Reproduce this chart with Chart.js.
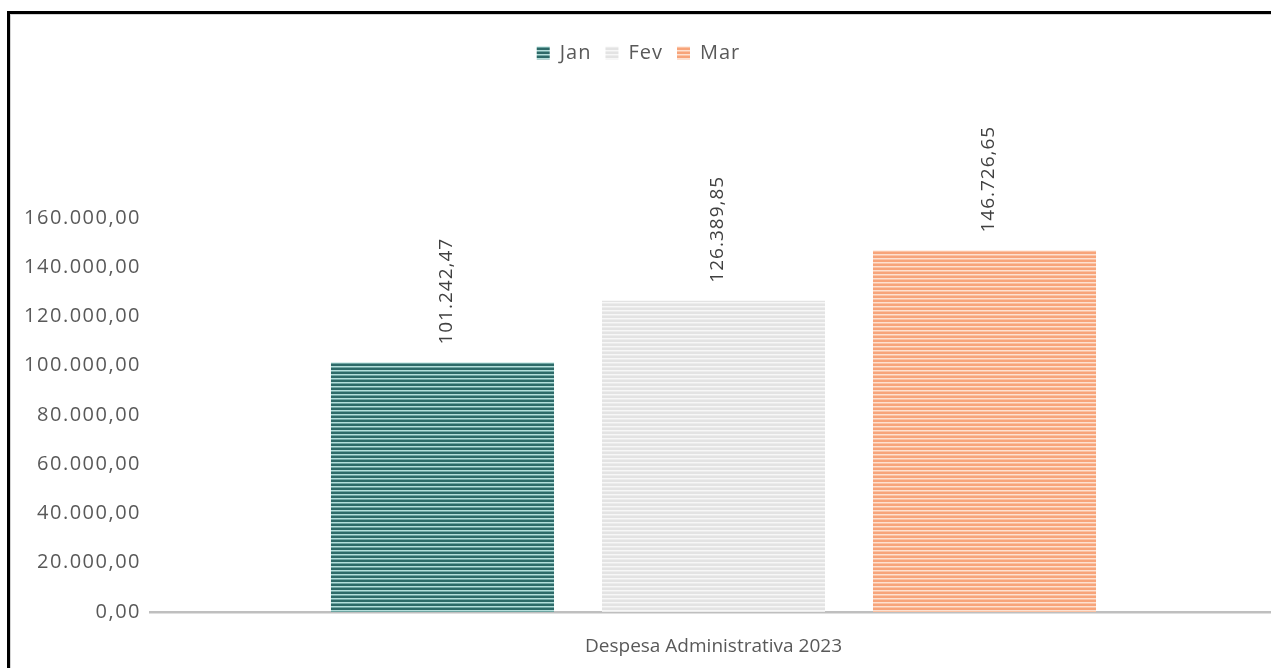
<!DOCTYPE html>
<html>
<head>
<meta charset="utf-8">
<script src="https://cdn.jsdelivr.net/npm/chart.js@4.4.1/dist/chart.umd.min.js"></script>
<style>
  html, body { margin: 0; padding: 0; background: #fff; overflow: hidden; width: 1271px; height: 668px; }
  #wrap { position: absolute; left: 0; top: 0; width: 1277px; height: 668px; }
  #frame { position: absolute; left: 7px; top: 11px; width: 2000px; height: 2000px;
           border-left: 3px solid #000; border-top: 3px solid #000; pointer-events: none; }
  #frame2 { position: absolute; left: 10px; top: 14px; width: 2000px; height: 2000px;
           border-left: 1px solid #d4d4d4; border-top: 1px solid #d4d4d4; pointer-events: none; }
</style>
</head>
<body>
<div id="wrap"><canvas id="c" width="1277" height="668"></canvas></div>
<div id="frame"></div>
<div id="frame2"></div>
<script>
const categories = ["Despesa Administrativa 2023"];
const seriesNames = ["Jan", "Fev", "Mar"];
const janValues = [101242.47];
const fevValues = [126389.85];
const marValues = [146726.65];
const yTickValues = [0, 20000, 40000, 60000, 80000, 100000, 120000, 140000, 160000];

function fmtBR(v) {
  const neg = v < 0; v = Math.abs(v);
  let [ip, dp] = v.toFixed(2).split(".");
  ip = ip.replace(/\B(?=(\d{3})+(?!\d))/g, ".");
  return (neg ? "-" : "") + ip + "," + dp;
}

function stripes(rows) {
  const c = document.createElement("canvas");
  c.width = 4; c.height = rows.length;
  const x = c.getContext("2d");
  rows.forEach((col, i) => { x.fillStyle = col; x.fillRect(0, i, 4, 1); });
  return x.createPattern(c, "repeat");
}
const ctx = document.getElementById("c").getContext("2d");
const janFill = stripes(["#2d6a68", "#2d6a68", "#b4dfdb", "#6fa6a3"]);
const fevFill = stripes(["#e3e3e3", "#e3e3e3", "#f7f7f7", "#ececec"]);
const marFill = stripes(["#f7a47a", "#f7a47a", "#fde1d1", "#fbc2a3"]);

const FONT = "'Open Sans', 'Noto Sans', sans-serif";
const TOP_PAD = 29;

function withSpacing(obj, name, spacing) {
  const orig = obj[name];
  obj[name] = function (...args) {
    const c = this.ctx;
    c.save();
    c.letterSpacing = spacing;
    const r = orig.apply(this, args);
    c.restore();
    return r;
  };
}

const legendTweaks = {
  id: "legendTweaks",
  beforeInit(chart) {
    const lg = chart.legend;
    withSpacing(lg, "fit", "1px");
    withSpacing(lg, "draw", "1px");
    const fit = lg.fit;
    lg.fit = function () { fit.call(this); this.height = 144 - TOP_PAD; };
  }
};

const valueLabels = {
  id: "valueLabels",
  afterDatasetsDraw(chart) {
    const c = chart.ctx;
    c.save();
    c.font = "19px " + FONT;
    c.letterSpacing = "1px";
    c.fillStyle = "#404040";
    c.textAlign = "left";
    c.textBaseline = "middle";
    chart.data.datasets.forEach((ds, di) => {
      const meta = chart.getDatasetMeta(di);
      meta.data.forEach((bar, i) => {
        c.save();
        c.translate(bar.x + 4, bar.y - 18);
        c.rotate(-Math.PI / 2);
        c.fillText(fmtBR(ds.data[i]), 0, 0);
        c.restore();
      });
    });
    c.restore();
  }
};

new Chart(ctx, {
  type: "bar",
  data: {
    labels: categories,
    datasets: [
      { label: seriesNames[0], data: janValues, backgroundColor: janFill },
      { label: seriesNames[1], data: fevValues, backgroundColor: fevFill },
      { label: seriesNames[2], data: marValues, backgroundColor: marFill }
    ]
  },
  options: {
    responsive: false,
    animation: false,
    devicePixelRatio: 1,
    layout: { padding: { top: TOP_PAD, left: 0, right: 0, bottom: 0 } },
    datasets: { bar: { categoryPercentage: 0.7214, barPercentage: 0.823, borderWidth: 0 } },
    plugins: {
      legend: {
        position: "top",
        labels: {
          boxWidth: 13, boxHeight: 13, padding: 14,
          color: "#595959",
          font: { family: FONT, size: 20 }
        }
      },
      tooltip: { enabled: false }
    },
    scales: {
      x: {
        grid: { display: false, drawTicks: false },
        border: { display: true, color: "#bfbfbf", width: 2.5 },
        ticks: { color: "#595959", font: { family: FONT, size: 19 }, padding: 23 },
        afterFit(s) { s.height = 56; }
      },
      y: {
        min: 0, max: 190000,
        grid: { display: false, drawTicks: false },
        border: { display: false },
        afterBuildTicks(s) { s.ticks = yTickValues.map(v => ({ value: v })); },
        afterUpdate(s) {
          if (!s._spaced) { withSpacing(s, "drawLabels", "1.5px"); s._spaced = true; }
        },
        ticks: {
          autoSkip: false,
          color: "#595959",
          font: { family: FONT, size: 20 },
          padding: 9,
          callback: (v) => fmtBR(v)
        },
        afterFit(s) { s.width = 150; }
      }
    }
  },
  plugins: [legendTweaks, valueLabels]
});
</script>
</body>
</html>
